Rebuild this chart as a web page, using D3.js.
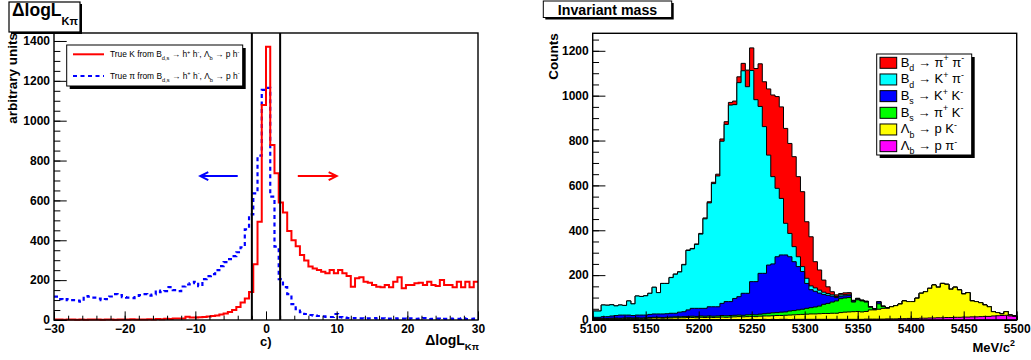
<!DOCTYPE html>
<html><head><meta charset="utf-8">
<script src="https://cdn.jsdelivr.net/npm/d3@7"></script>
<style>
body{margin:0;background:#fff;}
svg{display:block;font-family:"Liberation Sans",Arial,Helvetica,sans-serif;}
</style></head><body>
<svg id="c" width="1031" height="360"></svg>
<script>
// ---------------- DATA ----------------
// Left panel: Delta logL(K-pi), 100 bins from -30 to 30
const dllRange = [-30, 30];
const dllNBins = 100;
const trueK = [
  2,3,1,2,3,1,2,1,2,3,
  2,1,3,2,1,2,3,2,4,3,
  2,3,4,3,5,4,6,5,7,8,
  8,16,12,12,14,15,18,20,22,28,
  33,40,50,65,88,108,140,280,493,1079,
  1371,878,736,590,540,447,400,370,326,298,
  268,259,251,242,234,251,234,251,234,221,
  167,209,214,192,187,176,167,164,176,164,
  192,214,159,176,176,184,187,176,192,176,
  171,201,176,176,164,192,164,192,164,192];
const truePi = [
  117,105,100,105,100,97,92,120,117,112,
  107,100,105,118,130,125,115,112,110,115,
  125,130,122,128,148,140,145,165,150,145,
  168,178,185,192,170,205,220,230,250,270,
  290,305,320,340,365,455,530,635,825,1155,
  1165,619,368,205,165,130,80,55,40,30,
  25,22,20,18,16,15,30,14,12,10,
  9,10,8,7,8,9,7,8,6,7,
  8,6,7,5,8,6,7,9,5,6,
  7,5,6,7,5,6,8,5,6,7];
const dllCuts = [-2, 2];
const dllTicks = [-30,-20,-10,0,10,20,30];
const unitsTicks = [0,200,400,600,800,1000,1200,1400];
const leftLegend = [
  ["True K from B",["d,s","sub"]," \u2192 h",["+","sup"]," h",["-","sup"],",  \u039b",["b","sub"]," \u2192 p h",["-","sup"]],
  ["True \u03c0 from B",["d,s","sub"]," \u2192 h",["+","sup"]," h",["-","sup"],",  \u039b",["b","sub"]," \u2192 p h",["-","sup"]]
];

// Right panel: invariant mass, 100 bins of 4 MeV from 5100 to 5500 (stacked)
const massRange = [5100, 5500];
const massNBins = 100;
const bdPiPi = [
  0,0,0,0,0,0,0,0,0,0,0,0,0,0,0,0,0,0,1,1,1,2,2,
  2,2,3,4,5,6,8,10,12,12,
  16,26,33,74,101,139,190,200,295,364,
  409,408,423,401,401,357,334,252,219,117,
  90,54,30,14,7,6,8,7,2,2,
  1,1,0,0,0,0,0,
  0,0,0,0,0,0,0,0,0,0,0,0,0,0,0,0,0,0,0,0,0,0,0,0,0,0,0,0,0,0];
const bdKPi = [
  28,28,52,51,50,43,45,43,63,52,85,83,86,94,119,95,136,135,159,174,179,209,265,
  265,285,331,399,463,549,583,723,790,876,
  864,954,992,921,941,811,744,654,490,389,
  305,252,141,104,67,44,22,23,17,15,
  13,10,8,6,5,6,5,5,2,2,
  1,1,1,1,1,1,0,
  0,0,0,0,0,0,0,0,0,0,0,0,0,0,0,0,0,0,0,0,0,0,0,0,0,0,0,0,0,0];
const bsKK = [
  6,6,8,8,10,11,14,13,12,11,12,13,12,14,15,15,16,16,17,16,21,22,29,
  35,36,34,35,41,42,41,54,63,62,
  75,82,98,96,147,148,182,180,215,218,
  249,255,254,242,218,193,168,111,80,70,
  58,44,36,26,15,11,10,10,4,3,
  2,2,2,1,9,1,1,
  0,0,0,0,0,0,0,0,0,0,0,0,0,0,0,0,0,0,0,0,0,0,0,0,0,0,0,0,0,0];
const bsPiK = [
  1,2,1,2,2,3,2,3,3,3,3,3,3,3,3,3,3,3,4,4,4,5,5,
  6,6,6,6,6,6,6,7,7,7,
  7,7,7,8,8,8,9,10,12,13,
  13,15,15,18,19,21,23,26,28,31,
  34,41,45,50,55,62,63,64,43,52,
  49,42,12,3,24,8,2,
  0,0,0,0,0,0,0,0,0,0,0,0,0,0,0,0,0,0,0,0,0,0,0,0,0,0,0,0,0,0];
const lbPK = [
  4,4,5,4,5,5,6,5,6,5,6,6,6,7,7,8,7,8,8,8,9,9,9,
  9,9,10,9,10,10,10,11,10,11,
  12,13,12,13,13,13,15,15,16,16,
  18,17,18,20,20,21,22,23,24,24,
  25,26,26,27,27,30,32,33,34,35,
  33,34,41,41,44,48,47,
  54,59,65,79,75,75,90,111,118,132,
  147,136,153,148,126,134,122,103,109,71,
  68,62,51,43,19,14,7,16,4,2];
const lbPPi = [
  1,0,1,1,1,1,0,1,1,1,1,0,1,1,2,1,1,1,1,2,1,1,2,
  2,1,2,2,2,1,2,2,2,2,
  2,2,2,2,3,2,2,3,2,3,
  2,3,3,2,3,3,3,3,3,3,
  3,3,3,3,3,3,3,3,3,3,
  3,4,4,4,4,4,5,
  5,5,6,6,7,7,7,8,8,9,
  9,10,10,11,11,12,12,13,13,14,
  14,15,16,16,18,19,20,21,18,16];
const massTicks = [5100,5150,5200,5250,5300,5350,5400,5450,5500];
const countTicks = [0,200,400,600,800,1000,1200];
const channelKeys = ["lbPPi","lbPK","bsPiK","bsKK","bdKPi","bdPiPi"]; // stacking order, bottom first
const channelColors = {bdPiPi:"#ff0000", bdKPi:"#00ffff", bsKK:"#0000ff", bsPiK:"#00ff00", lbPK:"#ffff00", lbPPi:"#ff00ff"};
const channelLabels = {
  bdPiPi:["B",["d","sub"]," \u2192 \u03c0",["+","sup"]," \u03c0",["-","sup"]],
  bdKPi:["B",["d","sub"]," \u2192 K",["+","sup"]," \u03c0",["-","sup"]],
  bsKK:["B",["s","sub"]," \u2192 K",["+","sup"]," K",["-","sup"]],
  bsPiK:["B",["s","sub"]," \u2192 \u03c0",["+","sup"]," K",["-","sup"]],
  lbPK:["\u039b",["b","sub"]," \u2192 p K",["-","sup"]],
  lbPPi:["\u039b",["b","sub"]," \u2192 p \u03c0",["-","sup"]]
};
const legendOrder = ["bdPiPi","bdKPi","bsKK","bsPiK","lbPK","lbPPi"];

// ---------------- DRAWING ----------------
const svg = d3.select("#c");

function rich(parent, x, y, parts, size, attrs) {
  const t = parent.append("text").attr("x", x).attr("y", y).attr("font-size", size);
  if (attrs) for (const k in attrs) t.attr(k, attrs[k]);
  let shift = 0;
  parts.forEach(p => {
    const [str, mode] = Array.isArray(p) ? p : [p, null];
    let target = 0, fs = size;
    if (mode === "sub") { target = 0.32 * size; fs = 0.68 * size; }
    if (mode === "sup") { target = -0.42 * size; fs = 0.68 * size; }
    t.append("tspan").attr("dy", (target - shift).toFixed(2)).attr("font-size", fs.toFixed(2)).text(str);
    shift = target;
  });
  return t;
}

function styleAxis(g) {
  g.select(".domain").remove();
  g.selectAll("line").attr("stroke", "#000").attr("stroke-width", 1);
  g.selectAll("text").attr("font-size", 12).attr("font-weight", "bold")
    .attr("fill", "#000").attr("font-family", "Liberation Sans, Arial, sans-serif");
}

function frameAxes(x, y, xMajor, xMinorStep, yMajor, yMinorStep, xFmt) {
  const [x0, x1] = x.range(), [y0, y1] = y.range();
  const W = x1 - x0, H = y0 - y1;
  const xd = x.domain(), yd = y.domain();
  const xMinor = d3.range(Math.round((xd[1] - xd[0]) / xMinorStep) + 1).map(i => xd[0] + i * xMinorStep);
  const yMinor = d3.range(Math.floor((yd[1] - yd[0]) / yMinorStep) + 1).map(i => yd[0] + i * yMinorStep);
  svg.append("g").attr("transform", `translate(0,${y0})`)
    .call(d3.axisBottom(x).tickValues(xMinor).tickSize(-0.03 * H * 0.5).tickFormat("")).call(styleAxis);
  svg.append("g").attr("transform", `translate(0,${y0})`)
    .call(d3.axisBottom(x).tickValues(xMajor).tickSize(-0.03 * H).tickPadding(4.5).tickFormat(xFmt)).call(styleAxis);
  svg.append("g").attr("transform", `translate(${x0},0)`)
    .call(d3.axisLeft(y).tickValues(yMinor).tickSize(-0.03 * W * 0.5).tickFormat("")).call(styleAxis);
  svg.append("g").attr("transform", `translate(${x0},0)`)
    .call(d3.axisLeft(y).tickValues(yMajor).tickSize(-0.03 * W).tickPadding(4).tickFormat(d3.format("d"))).call(styleAxis);
  svg.append("rect").attr("x", x0).attr("y", y1).attr("width", W).attr("height", H)
    .attr("fill", "none").attr("stroke", "#000").attr("stroke-width", 1.4);
}

function binPoints(values, range, n) {
  const w = (range[1] - range[0]) / n;
  const pts = values.map((v, i) => [range[0] + i * w, v]);
  pts.push([range[1], values[values.length - 1]]);
  return pts;
}

// ===== LEFT PANEL =====
const xL = d3.scaleLinear().domain(dllRange).range([54, 478]);
const yL = d3.scaleLinear().domain([0, 1440]).range([320, 33]);

const lineL = d3.line().curve(d3.curveStepAfter).x(d => xL(d[0])).y(d => yL(d[1]));
svg.append("path").attr("d", lineL(binPoints(truePi, dllRange, dllNBins)))
  .attr("fill", "none").attr("stroke", "#0000ff").attr("stroke-width", 2.2).attr("stroke-dasharray", "4,3.5");
svg.append("path").attr("d", lineL(binPoints(trueK, dllRange, dllNBins)))
  .attr("fill", "none").attr("stroke", "#ff0000").attr("stroke-width", 2);

frameAxes(xL, yL, dllTicks, 2, unitsTicks, 50, d3.format("d"));

dllCuts.forEach(c => {
  svg.append("line").attr("x1", xL(c)).attr("x2", xL(c)).attr("y1", yL(0)).attr("y2", 33)
    .attr("stroke", "#000").attr("stroke-width", 2);
});

// arrows
function arrow(xa, xb, yv, color) {
  const g = svg.append("g").attr("stroke", color).attr("stroke-width", 2).attr("fill", "none");
  const X1 = xL(xa), X2 = xL(xb), Y = yL(yv);
  const dir = X2 > X1 ? 1 : -1;
  g.append("line").attr("x1", X1).attr("x2", X2).attr("y1", Y).attr("y2", Y);
  g.append("path").attr("d", `M${X2 - dir * 8},${Y - 4}L${X2},${Y}L${X2 - dir * 8},${Y + 4}`);
}
arrow(-4.0, -9.3, 722, "#0000ff");
arrow(4.5, 10.0, 722, "#ff0000");

// left legend
svg.append("rect").attr("x", 69.7).attr("y", 48).attr("width", 176).attr("height", 41).attr("fill", "#000");
svg.append("rect").attr("x", 66.7).attr("y", 45).attr("width", 176).attr("height", 41)
  .attr("fill", "#fff").attr("stroke", "#000").attr("stroke-width", 1);
svg.append("line").attr("x1", 73).attr("x2", 104).attr("y1", 54.3).attr("y2", 54.3)
  .attr("stroke", "#ff0000").attr("stroke-width", 2);
svg.append("line").attr("x1", 73).attr("x2", 104).attr("y1", 76).attr("y2", 76)
  .attr("stroke", "#0000ff").attr("stroke-width", 2.2).attr("stroke-dasharray", "4,3.5");
rich(svg, 110, 57.3, leftLegend[0], 8.4, {fill: "#000"});
rich(svg, 110, 79, leftLegend[1], 8.4, {fill: "#000"});

// left title box
svg.append("rect").attr("x", 11).attr("y", 4).attr("width", 71).attr("height", 30).attr("fill", "#000");
svg.append("rect").attr("x", 9).attr("y", 2).attr("width", 71).attr("height", 30)
  .attr("fill", "#fff").attr("stroke", "#000").attr("stroke-width", 1.2);
rich(svg, 12, 15.5, ["\u0394logL", ["K\u03c0", "sub"]], 17.5, {"font-weight": "bold"})
  .selectAll("tspan").filter((d, i) => i === 1).attr("dy", 9).attr("font-size", 11);

// left axis titles
svg.append("text").attr("transform", "translate(17,33) rotate(-90)").attr("text-anchor", "end")
  .attr("font-size", 13.5).attr("font-weight", "bold").text("arbitrary units");
svg.append("text").attr("x", 260).attr("y", 345.5).attr("font-size", 13).attr("font-weight", "bold").text("c)");
{
  const t = svg.append("text").attr("x", 479).attr("y", 345).attr("text-anchor", "end")
    .attr("font-size", 14).attr("font-weight", "bold");
  t.append("tspan").text("\u0394logL");
  t.append("tspan").attr("dy", 5).attr("font-size", 9.5).text("K\u03c0");
}

// ===== RIGHT PANEL =====
const xR = d3.scaleLinear().domain(massRange).range([592.7, 1016.7]);
const yR = d3.scaleLinear().domain([0, 1278]).range([320, 33.3]);
const seriesByKey = {bdPiPi, bdKPi, bsKK, bsPiK, lbPK, lbPPi};
const massW = (massRange[1] - massRange[0]) / massNBins;
const table = d3.range(massNBins + 1).map(i => {
  const j = Math.min(i, massNBins - 1);
  const row = {x: massRange[0] + i * massW};
  channelKeys.forEach(k => row[k] = seriesByKey[k][j]);
  return row;
});
const stacked = d3.stack().keys(channelKeys)(table);
const areaR = d3.area().curve(d3.curveStepAfter)
  .x(d => xR(d.data.x)).y0(yR(0)).y1(d => yR(d[1]));
// draw top-of-stack first so lower layers paint over it
stacked.slice().reverse().forEach(layer => {
  svg.append("path").attr("d", areaR(layer))
    .attr("fill", channelColors[layer.key]).attr("stroke", "#000").attr("stroke-width", 1)
    .attr("stroke-linejoin", "miter");
});

frameAxes(xR, yR, massTicks, 10, countTicks, 50, d3.format("d"));

// right legend
svg.append("rect").attr("x", 879.7).attr("y", 57).attr("width", 95).attr("height", 101).attr("fill", "#000");
svg.append("rect").attr("x", 876.7).attr("y", 54).attr("width", 95).attr("height", 101)
  .attr("fill", "#fff").attr("stroke", "#000").attr("stroke-width", 1);
legendOrder.forEach((k, i) => {
  const yy = 57.3 + i * 16.67;
  svg.append("rect").attr("x", 880).attr("y", yy).attr("width", 16.7).attr("height", 11)
    .attr("fill", channelColors[k]).attr("stroke", "#000").attr("stroke-width", 1);
  rich(svg, 900.7, yy + 9.5, channelLabels[k], 13, {fill: "#000"});
});

// right title box
svg.append("rect").attr("x", 545.3).attr("y", 3).attr("width", 128.4).attr("height", 16.5).attr("fill", "#000");
svg.append("rect").attr("x", 543.3).attr("y", 1).attr("width", 128.4).attr("height", 16.5)
  .attr("fill", "#fff").attr("stroke", "#000").attr("stroke-width", 1);
svg.append("text").attr("x", 607.5).attr("y", 14.8).attr("text-anchor", "middle")
  .attr("font-size", 14.2).attr("font-weight", "bold").text("Invariant mass");

// right axis titles
svg.append("text").attr("transform", "translate(558,33.3) rotate(-90)").attr("text-anchor", "end")
  .attr("font-size", 13.5).attr("font-weight", "bold").text("Counts");
rich(svg, 1015, 351.5, ["MeV/c", ["2", "sup"]], 13, {"text-anchor": "end", "font-weight": "bold"});
</script></body></html>
